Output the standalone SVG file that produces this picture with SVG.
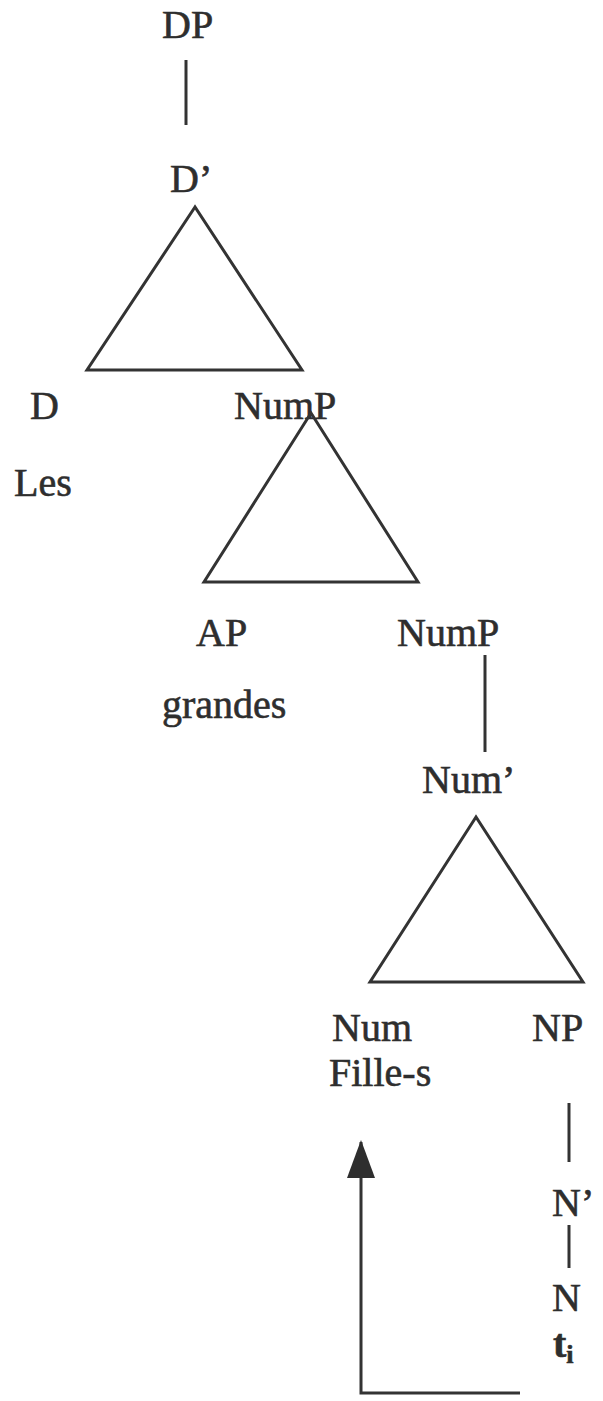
<svg xmlns="http://www.w3.org/2000/svg" width="603" height="1401" viewBox="0 0 603 1401">
<style>
text{font-family:"Liberation Serif","Times New Roman",serif;font-size:40px;fill:#2e2e2e;stroke:#2e2e2e;stroke-width:0.6}
.ln{stroke:#333;stroke-width:3;fill:none}
.tri{stroke:#333;stroke-width:3;fill:none;stroke-linejoin:miter}
</style>
<defs>
<marker id="ah" markerWidth="38" markerHeight="28" refX="36" refY="14" orient="auto" markerUnits="userSpaceOnUse" viewBox="0 0 38 28">
<path d="M0,0 L38,14 L0,28 Z" fill="#2e2e2e"/>
</marker>
</defs>
<rect width="603" height="1401" fill="#fff"/>
<g id="DP"><text x="162" y="38">DP</text></g>
<g id="Dbar"><text x="170" y="192">D’</text></g>
<g id="D"><text x="30" y="419">D</text></g>
<g id="Les"><text x="14" y="496">Les</text></g>
<g id="NumP1"><text x="234" y="419">NumP</text></g>
<g id="AP"><text x="196" y="646">AP</text></g>
<g id="grandes"><text x="162" y="718">grandes</text></g>
<g id="NumP2"><text x="397" y="646">NumP</text></g>
<g id="Numbar"><text x="422" y="793">Num’</text></g>
<g id="Num"><text x="332" y="1041">Num</text></g>
<g id="Filles"><text x="329" y="1086">Fille-s</text></g>
<g id="NP"><text x="532" y="1041">NP</text></g>
<g id="Nbar"><text x="552" y="1216">N’</text></g>
<g id="N"><text x="552" y="1311">N</text></g>
<g id="ti"><text x="553" y="1357" font-weight="bold">t<tspan font-size="26" dy="6">i</tspan></text></g>
<g id="connectors">
<line class="ln" x1="186" y1="60" x2="186" y2="125"/>
<polygon class="tri" points="195,207 87,370 302,370"/>
<polygon class="tri" points="311,413 204,582 418,582"/>
<line class="ln" x1="485" y1="655" x2="485" y2="752"/>
<polygon class="tri" points="476,817 370,982 583,982"/>
<line class="ln" x1="569" y1="1103" x2="569" y2="1162"/>
<line class="ln" x1="569" y1="1225" x2="569" y2="1268"/>
<polyline class="ln" points="520,1393 361,1393 361,1142" marker-end="url(#ah)"/>
</g>
</svg>
